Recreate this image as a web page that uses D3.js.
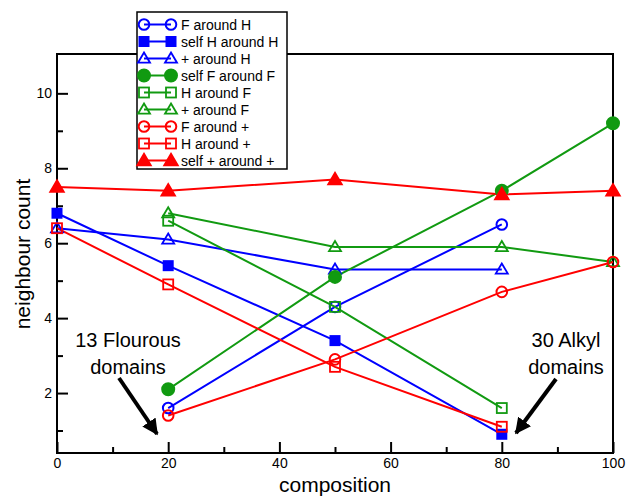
<!DOCTYPE html>
<html>
<head>
<meta charset="utf-8">
<script src="https://cdn.jsdelivr.net/npm/d3@7"></script>
<style>
  body { margin: 0; background: #fff; }
  svg { font-family: "Liberation Sans", Arial, sans-serif; }
</style>
</head>
<body>
<div id="chart"></div>
<script>
// data
const compositions = [0, 20, 50, 80, 100];
const fAroundH     = [null, 1.6, 4.3, 6.5, null];
const selfHAroundH = [6.8, 5.4, 3.4, 0.9, null];
const plusAroundH  = [6.4, 6.1, 5.3, 5.3, null];
const selfFAroundF = [null, 2.1, 5.1, 7.4, 9.2];
const hAroundF     = [null, 6.6, 4.3, 1.6, null];
const plusAroundF  = [null, 6.8, 5.9, 5.9, 5.5];
const fAroundPlus  = [null, 1.4, 2.9, 4.7, 5.5];
const hAroundPlus  = [6.4, 4.9, 2.7, 1.1, null];
const selfPlusAroundPlus = [7.5, 7.4, 7.7, 7.3, 7.4];

const xTicks = [0, 20, 40, 60, 80, 100];
const yTicks = [2, 4, 6, 8, 10];

const blue = '#0000ff', green = '#119a11', red = '#ff0000';

const series = [
  {name: 'F around H', values: fAroundH, color: blue, shape: 'circle', fill: false},
  {name: 'self H around H', values: selfHAroundH, color: blue, shape: 'square', fill: true},
  {name: '+ around H', values: plusAroundH, color: blue, shape: 'triangle', fill: false},
  {name: 'self F around F', values: selfFAroundF, color: green, shape: 'circle', fill: true},
  {name: 'H around F', values: hAroundF, color: green, shape: 'square', fill: false},
  {name: '+ around F', values: plusAroundF, color: green, shape: 'triangle', fill: false},
  {name: 'F around +', values: fAroundPlus, color: red, shape: 'circle', fill: false},
  {name: 'H around +', values: hAroundPlus, color: red, shape: 'square', fill: false},
  {name: 'self + around +', values: selfPlusAroundPlus, color: red, shape: 'triangle', fill: true}
];

const W = 628, H = 497;
const margin = {top: 54, right: 15, bottom: 44, left: 57};
const width = W - margin.left - margin.right,
      height = H - margin.top - margin.bottom;

const svg = d3.select('#chart').append('svg')
  .attr('width', W).attr('height', H);

const g = svg.append('g')
  .attr('transform', `translate(${margin.left},${margin.top})`);

const x = d3.scaleLinear().domain([0, 100]).range([0, width]);
const y = d3.scaleLinear().domain([0.4, 11.05]).range([height, 0]);

// frame
g.append('rect')
  .attr('width', width).attr('height', height)
  .attr('fill', 'none').attr('stroke', '#000').attr('stroke-width', 2);

// axes with inward ticks
const xAxis = d3.axisBottom(x).tickValues(xTicks).tickSizeInner(-11).tickSizeOuter(0).tickPadding(5);
const xMinor = d3.axisBottom(x).tickValues(d3.range(10, 100, 20)).tickSizeInner(-6).tickSizeOuter(0).tickFormat('');
const yAxis = d3.axisLeft(y).tickValues(yTicks).tickSizeInner(-11).tickSizeOuter(0).tickPadding(5);
const yMinor = d3.axisLeft(y).tickValues(d3.range(1, 11, 2)).tickSizeInner(-6).tickSizeOuter(0).tickFormat('');

function styleAxis(sel) {
  sel.select('.domain').remove();
  sel.selectAll('line').attr('stroke', '#000').attr('stroke-width', 2);
  sel.selectAll('text').attr('font-size', 14).attr('fill', '#000')
    .attr('font-family', '"Liberation Sans", Arial, sans-serif');
}

g.append('g').attr('transform', `translate(0,${height})`).call(xAxis).call(styleAxis);
g.append('g').attr('transform', `translate(0,${height})`).call(xMinor).call(styleAxis);
g.append('g').call(yAxis).call(styleAxis);
g.append('g').call(yMinor).call(styleAxis);

// axis titles
svg.append('text')
  .attr('x', margin.left + width / 2).attr('y', 492)
  .attr('text-anchor', 'middle').attr('font-size', 21)
  .text('composition');

svg.append('text')
  .attr('transform', `translate(30,254) rotate(-90)`)
  .attr('text-anchor', 'middle').attr('font-size', 21)
  .text('neighbour count');

// symbols
function drawSymbol(sel, s, cx, cy) {
  const fill = s.fill ? s.color : 'none';
  if (s.shape === 'circle') {
    sel.append('circle').attr('cx', cx).attr('cy', cy).attr('r', s.fill ? 6 : 5.3)
      .attr('fill', fill).attr('stroke', s.color).attr('stroke-width', 2);
  } else if (s.shape === 'square') {
    const a = s.fill ? 11 : 10;
    sel.append('rect').attr('x', cx - a / 2).attr('y', cy - a / 2)
      .attr('width', a).attr('height', a)
      .attr('fill', fill).attr('stroke', s.color).attr('stroke-width', s.fill ? 0 : 1.8);
  } else {
    const sz = s.fill ? 6.8 : 6;
    const pts = [[cx, cy - sz], [cx + sz * 1.0, cy + sz * 0.7], [cx - sz * 1.0, cy + sz * 0.7]];
    sel.append('path').attr('d', 'M' + pts.join('L') + 'Z')
      .attr('fill', fill).attr('stroke', s.color).attr('stroke-width', 1.8)
      .attr('stroke-linejoin', 'miter');
  }
}

const line = d3.line()
  .defined(d => d.v != null)
  .x(d => x(d.c)).y(d => y(d.v));

series.forEach(s => {
  const pts = compositions.map((c, i) => ({c: c, v: s.values[i]}));
  g.append('path').datum(pts)
    .attr('d', line)
    .attr('fill', 'none').attr('stroke', s.color).attr('stroke-width', 2);
});
series.forEach(s => {
  const mg = g.append('g');
  compositions.forEach((c, i) => {
    if (s.values[i] != null) drawSymbol(mg, s, x(c), y(s.values[i]));
  });
});

// annotations
function annot(lines, cx, top) {
  const t = svg.append('text').attr('font-size', 20).attr('text-anchor', 'middle');
  lines.forEach((l, i) => t.append('tspan').attr('x', cx).attr('y', top + i * 27).text(l));
}
annot(['13 Flourous', 'domains'], 128, 347);
annot(['30 Alkyl', 'domains'], 566, 347);

svg.append('defs').append('marker')
  .attr('id', 'head').attr('viewBox', '0 0 10 10')
  .attr('refX', 9).attr('refY', 5)
  .attr('markerWidth', 4).attr('markerHeight', 4)
  .attr('orient', 'auto-start-reverse')
  .append('path').attr('d', 'M0,0L10,5L0,10Z').attr('fill', '#000');

function arrow(x1, y1, x2, y2) {
  svg.append('line').attr('x1', x1).attr('y1', y1).attr('x2', x2).attr('y2', y2)
    .attr('stroke', '#000').attr('stroke-width', 4).attr('marker-end', 'url(#head)');
}
arrow(119, 378, 157, 434);
arrow(556, 379, 516, 433);

// legend
const lg = svg.append('g').attr('transform', 'translate(137,12)');
lg.append('rect').attr('width', 150).attr('height', 157)
  .attr('fill', '#fff').attr('stroke', '#000').attr('stroke-width', 1.5);
series.forEach((s, i) => {
  const yy = 12.5 + i * 17;
  lg.append('line').attr('x1', 7).attr('x2', 34).attr('y1', yy).attr('y2', yy)
    .attr('stroke', s.color).attr('stroke-width', 2);
  drawSymbol(lg, s, 7, yy);
  drawSymbol(lg, s, 34, yy);
  lg.append('text').attr('x', 44).attr('y', yy + 5)
    .attr('font-size', 14).text(s.name);
});
</script>
</body>
</html>
